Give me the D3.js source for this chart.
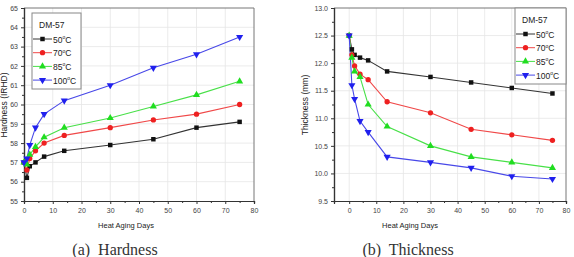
<!DOCTYPE html>
<html>
<head>
<meta charset="utf-8">
<script src="https://cdn.jsdelivr.net/npm/d3@7"></script>
<style>
  body { margin: 0; background: #fff; }
  svg { display: block; }
  .tick text { font-family: "Liberation Sans", Arial, sans-serif; font-size: 7px; fill: #444; }
  .lbl { font-family: "Liberation Sans", Arial, sans-serif; fill: #222; }
  .cap { font-family: "Liberation Serif", "DejaVu Serif", serif; font-size: 16px; fill: #333; white-space: pre; }
</style>
</head>
<body>
<svg id="chart" width="574" height="257"></svg>
<script>
// data
const days = [0, 1, 2, 4, 7, 14, 30, 45, 60, 75];
const seriesNames = ['50', '70', '85', '100'];
const colors = ['#111', '#ee2020', '#20dd20', '#2020ee'];
const lineColors = ['#333', '#f04848', '#48e048', '#4848e8'];
const symbols = [d3.symbolSquare, d3.symbolCircle, d3.symbolTriangle, 'down'];

const hardness50 = [57.0, 56.2, 56.8, 57.0, 57.3, 57.6, 57.9, 58.2, 58.8, 59.1];
const hardness70 = [57.0, 56.6, 57.2, 57.6, 58.0, 58.4, 58.8, 59.2, 59.5, 60.0];
const hardness85 = [57.0, 56.9, 57.4, 57.8, 58.3, 58.8, 59.3, 59.9, 60.5, 61.2];
const hardness100 = [57.0, 57.2, 57.9, 58.8, 59.5, 60.2, 61.0, 61.9, 62.6, 63.5];

const thick50 = [12.5, 12.25, 12.15, 12.1, 12.05, 11.85, 11.75, 11.65, 11.55, 11.45];
const thick70 = [12.5, 12.15, 11.95, 11.8, 11.7, 11.3, 11.1, 10.8, 10.7, 10.6];
const thick85 = [12.5, 12.1, 11.85, 11.75, 11.25, 10.85, 10.5, 10.3, 10.2, 10.1];
const thick100 = [12.5, 11.6, 11.35, 10.95, 10.75, 10.3, 10.2, 10.1, 9.95, 9.9];

const xTicks = [0, 10, 20, 30, 40, 50, 60, 70, 80];
const hardTicks = [55, 56, 57, 58, 59, 60, 61, 62, 63, 64, 65];
const thickTicks = [9.5, 10.0, 10.5, 11.0, 11.5, 12.0, 12.5, 13.0];

const svg = d3.select('#chart');

function marker(g, i, x, y) {
  const s = symbols[i];
  if (s === 'down') {
    g.append('path')
      .attr('d', d3.symbol(d3.symbolTriangle, 22)())
      .attr('transform', 'translate(' + x + ',' + y + ') rotate(180)')
      .attr('fill', colors[i]);
  } else {
    g.append('path')
      .attr('d', d3.symbol(s, s === d3.symbolSquare ? 20 : 22)())
      .attr('transform', 'translate(' + x + ',' + y + ')')
      .attr('fill', colors[i]);
  }
}

function drawPanel(opt) {
  const x = d3.scaleLinear().domain(opt.xDomain).range(opt.xRange);
  const y = d3.scaleLinear().domain(opt.yDomain).range([201, 8]);
  const g = svg.append('g');

  // grid
  g.selectAll('.vg').data(xTicks.filter(d => d > opt.xDomain[0] && d < 80)).enter().append('line')
    .attr('x1', d => x(d)).attr('x2', d => x(d)).attr('y1', 8).attr('y2', 201)
    .attr('stroke', '#e6e6e6').attr('stroke-width', 0.8);
  g.selectAll('.hg').data(opt.yTicks.slice(1, -1)).enter().append('line')
    .attr('x1', opt.xRange[0]).attr('x2', opt.xRange[1]).attr('y1', d => y(d)).attr('y2', d => y(d))
    .attr('stroke', '#e6e6e6').attr('stroke-width', 0.8);

  // frame top/right
  g.append('path')
    .attr('d', 'M' + opt.xRange[0] + ',8H' + opt.xRange[1] + 'V201')
    .attr('fill', 'none').attr('stroke', '#777').attr('stroke-width', 1);

  // axes
  const xa = g.append('g').attr('transform', 'translate(0,201)')
    .call(d3.axisBottom(x).tickValues(xTicks).tickSize(3).tickPadding(4).tickFormat(d3.format('d')));
  const xm = g.append('g').attr('transform', 'translate(0,201)')
    .call(d3.axisBottom(x).tickValues(xTicks.slice(0, -1).map(d => d + 5)).tickSize(2).tickFormat(''));
  const ya = g.append('g').attr('transform', 'translate(' + opt.xRange[0] + ',0)')
    .call(d3.axisLeft(y).tickValues(opt.yTicks).tickSize(3).tickPadding(3).tickFormat(opt.yFormat));
  const ym = g.append('g').attr('transform', 'translate(' + opt.xRange[0] + ',0)')
    .call(d3.axisLeft(y).tickValues(opt.yTicks.slice(0, -1).map(d => d + opt.yStep / 2)).tickSize(2).tickFormat(''));
  [xa, xm, ya, ym].forEach(a => {
    a.select('.domain').attr('stroke', '#333').attr('stroke-width', 1.2);
    a.selectAll('.tick line').attr('stroke', '#333');
  });

  // series
  const line = d3.line().x(d => x(d[0])).y(d => y(d[1]));
  opt.series.forEach((vals, i) => {
    const pts = days.map((d, k) => [d, vals[k]]);
    g.append('path').datum(pts).attr('d', line)
      .attr('fill', 'none').attr('stroke', lineColors[i]).attr('stroke-width', 1.1);
  });
  opt.series.forEach((vals, i) => {
    days.forEach((d, k) => marker(g, i, x(d), y(vals[k])));
  });

  // legend
  const L = opt.legend;
  g.append('rect').attr('x', L.x).attr('y', L.y).attr('width', L.w).attr('height', L.h)
    .attr('fill', '#fff').attr('stroke', '#888').attr('stroke-width', 1);
  g.append('text').attr('class', 'lbl').attr('x', L.x + 7).attr('y', L.y + 15)
    .attr('font-size', 8.5).text('DM-57');
  seriesNames.forEach((n, i) => {
    const yy = L.y + 26 + i * 13.7;
    g.append('line').attr('x1', L.x + 1).attr('x2', L.x + 20).attr('y1', yy).attr('y2', yy)
      .attr('stroke', lineColors[i]).attr('stroke-width', 1);
    marker(g, i, L.x + 10.5, yy);
    const t = g.append('text').attr('class', 'lbl').attr('x', L.x + 21).attr('y', yy + 3.5)
      .attr('font-size', 8.5);
    t.append('tspan').text(n);
    t.append('tspan').attr('dy', -3.5).attr('font-size', 5).text('o');
    t.append('tspan').attr('dy', 3.5).text('C');
  });

  // axis titles
  svg.append('text').attr('class', 'lbl').attr('x', opt.xTitleX).attr('y', 228)
    .attr('text-anchor', 'middle').attr('font-size', 7.5).text('Heat Aging Days');
  svg.append('text').attr('class', 'lbl')
    .attr('transform', 'translate(' + opt.yTitleX + ',105) rotate(-90)')
    .attr('text-anchor', 'middle').attr('font-size', 8.5).text(opt.yTitle);
  svg.append('text').attr('class', 'cap').attr('x', opt.capX).attr('y', 255)
    .attr('text-anchor', 'middle').text(opt.caption);
}

drawPanel({
  xDomain: [0, 80], xRange: [24, 254],
  yDomain: [55, 65], yTicks: hardTicks, yStep: 1, yFormat: d3.format('d'),
  series: [hardness50, hardness70, hardness85, hardness100],
  legend: { x: 32, y: 13, w: 49, h: 76 },
  xTitleX: 126, yTitleX: 7, yTitle: 'Hardness (IRHD)',
  capX: 115, caption: '(a)  Hardness'
});

drawPanel({
  xDomain: [-5.6, 80], xRange: [334, 566],
  yDomain: [9.5, 13], yTicks: thickTicks, yStep: 0.5, yFormat: d3.format('.1f'),
  series: [thick50, thick70, thick85, thick100],
  legend: { x: 515, y: 8, w: 51, h: 76 },
  xTitleX: 410, yTitleX: 308, yTitle: 'Thickness (mm)',
  capX: 408, caption: '(b)  Thickness'
});
</script>
</body>
</html>
